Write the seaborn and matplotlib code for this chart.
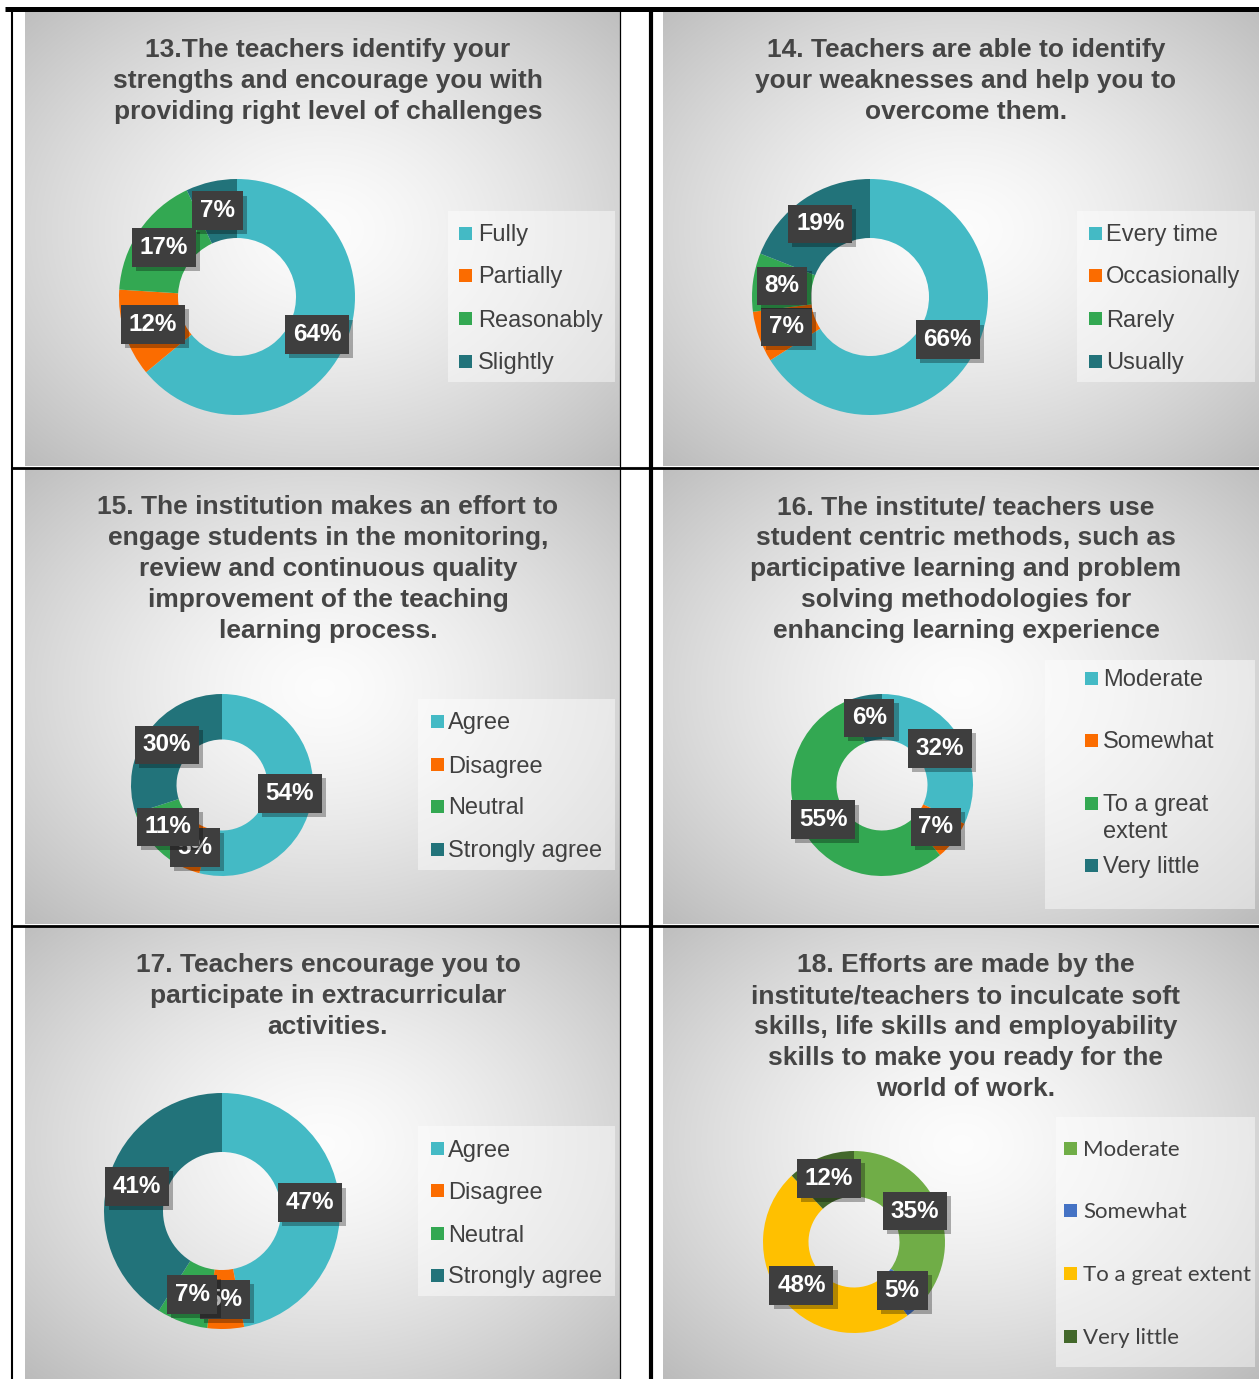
import textwrap
import numpy as np
import matplotlib
matplotlib.use("Agg")
import matplotlib.pyplot as plt
import matplotlib.patheffects as pe
from matplotlib.patches import Rectangle
import seaborn as sns

sns.set_theme(style="white")
plt.rcParams['font.family'] = ['Liberation Sans', 'DejaVu Sans']

W, H = 1259, 1379

# ---------------- data ----------------
title_13 = "13.The teachers identify your\nstrengths and encourage you with\nproviding right level of challenges"
labels_13 = ["Fully", "Partially", "Reasonably", "Slightly"]
values_13 = [64, 12, 17, 7]

title_14 = "14. Teachers are able to identify\nyour weaknesses and help you to\novercome them."
labels_14 = ["Every time", "Occasionally", "Rarely", "Usually"]
values_14 = [66, 7, 8, 19]

title_15 = ("15. The institution makes an effort to\nengage students in the monitoring,\n"
            "review and continuous quality\nimprovement of the teaching\nlearning process.")
labels_15 = ["Agree", "Disagree", "Neutral", "Strongly agree"]
values_15 = [54, 5, 11, 30]

title_16 = ("16. The institute/ teachers use\nstudent centric methods, such as\n"
            "participative learning and problem\nsolving methodologies for\nenhancing learning experience")
labels_16 = ["Moderate", "Somewhat", "To a great extent", "Very little"]
values_16 = [32, 7, 55, 6]

title_17 = "17. Teachers encourage you to\nparticipate in extracurricular\nactivities."
labels_17 = ["Agree", "Disagree", "Neutral", "Strongly agree"]
values_17 = [47, 5, 7, 41]

title_18 = ("18. Efforts are made by the\ninstitute/teachers to inculcate soft\n"
            "skills, life skills and employability\nskills to make you ready for the\nworld of work.")
labels_18 = ["Moderate", "Somewhat", "To a great extent", "Very little"]
values_18 = [35, 5, 48, 12]

colors_main = ["#44BAC5", "#FB6C00", "#33A852", "#22737A"]
colors_18 = ["#70AD47", "#4472C4", "#FFC000", "#43682B"]

# ---------------- layout (pixels) ----------------
panels = [
    dict(title=title_13, labels=labels_13, values=values_13, colors=colors_main,
         rect=(25, 12, 620, 466), tc=(328, 81), pie=(237, 297, 118),
         box=(448, 211, 615, 382), rows=[233, 275, 318, 361], mx=459, tx=478,
         lfont='Liberation Sans', lsize=17, wrap=None),
    dict(title=title_14, labels=labels_14, values=values_14, colors=colors_main,
         rect=(663, 12, 1259, 466), tc=(966, 81), pie=(870, 297, 118),
         box=(1077, 211, 1255, 382), rows=[233, 275, 318, 361], mx=1089, tx=1106,
         lfont='Liberation Sans', lsize=17, wrap=None),
    dict(title=title_15, labels=labels_15, values=values_15, colors=colors_main,
         rect=(25, 469, 620, 924), tc=(328, 569), pie=(222, 785, 91),
         box=(418, 699, 615, 870), rows=[721, 764, 806, 849], mx=431, tx=448,
         lfont='Liberation Sans', lsize=17, wrap=None),
    dict(title=title_16, labels=labels_16, values=values_16, colors=colors_main,
         rect=(663, 469, 1259, 924), tc=(966, 569), pie=(882, 785, 91),
         box=(1045, 660, 1255, 909), rows=[678, 740, 803, 865], mx=1085, tx=1103,
         lfont='Liberation Sans', lsize=17, wrap=11),
    dict(title=title_17, labels=labels_17, values=values_17, colors=colors_main,
         rect=(25, 927, 620, 1379), tc=(328, 996), pie=(222, 1211, 118),
         box=(418, 1126, 615, 1296), rows=[1148, 1190, 1233, 1275], mx=431, tx=448,
         lfont='Liberation Sans', lsize=17, wrap=None),
    dict(title=title_18, labels=labels_18, values=values_18, colors=colors_18,
         rect=(663, 927, 1259, 1379), tc=(966, 1027), pie=(854, 1242, 91),
         box=(1056, 1117, 1255, 1367), rows=[1148, 1210, 1273, 1336], mx=1064, tx=1083,
         lfont='Lato', lsize=16, wrap=None),
]

fig = plt.figure(figsize=(W / 100, H / 100), dpi=100)
fig.patch.set_facecolor("white")

bg = fig.add_axes([0, 0, 1, 1], zorder=0)
bg.set_xlim(0, W)
bg.set_ylim(H, 0)
bg.axis('off')


def gradient(w, h):
    yy, xx = np.mgrid[0:h, 0:w]
    rx = (xx - w * 0.5) / (w * 0.5)
    ry = (yy - h * 0.48) / (h * 0.5)
    r = np.sqrt(rx ** 2 + ry ** 2) / np.sqrt(2)
    v = 0.99 - 0.25 * np.clip(r, 0, 1.2) ** 1.4
    return np.dstack([v, v, v])


for p in panels:
    x0, y0, x1, y1 = p['rect']
    bg.imshow(gradient(int(x1 - x0), int(y1 - y0)), extent=(x0, x1, y1, y0),
              aspect='auto', interpolation='bilinear', zorder=0)
    # title
    bg.text(p['tc'][0], p['tc'][1], p['title'], ha='center', va='center',
            multialignment='center', fontsize=19, fontweight='bold',
            color='#454545', linespacing=1.36, zorder=3)
    # legend box
    bx0, by0, bx1, by1 = p['box']
    bg.add_patch(Rectangle((bx0, by0), bx1 - bx0, by1 - by0, facecolor='white',
                           alpha=0.45, edgecolor='none', zorder=2))
    pal = sns.color_palette(p['colors'])
    for lab, col, ry in zip(p['labels'], pal, p['rows']):
        bg.add_patch(Rectangle((p['mx'], ry - 6.5), 13, 13, facecolor=col,
                               edgecolor='none', zorder=3))
        lines = textwrap.wrap(lab, p['wrap']) if p['wrap'] else [lab]
        for k, line in enumerate(lines):
            bg.text(p['tx'], ry + k * 27, line, ha='left', va='center_baseline',
                    fontsize=p['lsize'], family=[p['lfont'], 'DejaVu Sans'],
                    color='#404040', zorder=3)

bg.set_xlim(0, W)
bg.set_ylim(H, 0)

# table lines
line_kw = dict(color='black', solid_capstyle='butt', zorder=5)
bg.plot([5, W], [8.5, 8.5], lw=3.6, **line_kw)
bg.plot([12, 12], [7, H], lw=1.5, **line_kw)
bg.plot([620.5, 620.5], [7, H], lw=0.9, **line_kw)
bg.plot([651, 651], [7, H], lw=3.0, **line_kw)
bg.plot([12, W], [467.5, 467.5], lw=2.0, **line_kw)
bg.plot([12, W], [925.5, 925.5], lw=2.0, **line_kw)

# donuts
for p in panels:
    cx, cy, r = p['pie']
    ax = fig.add_axes([(cx - r) / W, 1 - (cy + r) / H, 2 * r / W, 2 * r / H], zorder=2)
    wedges, _, autotexts = ax.pie(
        p['values'], colors=sns.color_palette(p['colors']), startangle=90,
        counterclock=False, radius=1.0,
        wedgeprops=dict(width=0.5, edgecolor='none'),
        autopct=lambda v: f"{v:.0f}%", pctdistance=0.75,
        textprops=dict(color='white', fontsize=17.5, fontweight='bold'))
    for t in autotexts:
        t.set_bbox(dict(boxstyle='square,pad=0.32', facecolor='#3E3E3E',
                        edgecolor='none'))
        t.get_bbox_patch().set_path_effects(
            [pe.withSimplePatchShadow(offset=(3, -3), shadow_rgbFace='black', alpha=0.3),
             pe.Normal()])
    ax.set_xlim(-1, 1)
    ax.set_ylim(-1, 1)
    ax.axis('off')

fig.savefig("out.png", dpi=100)
